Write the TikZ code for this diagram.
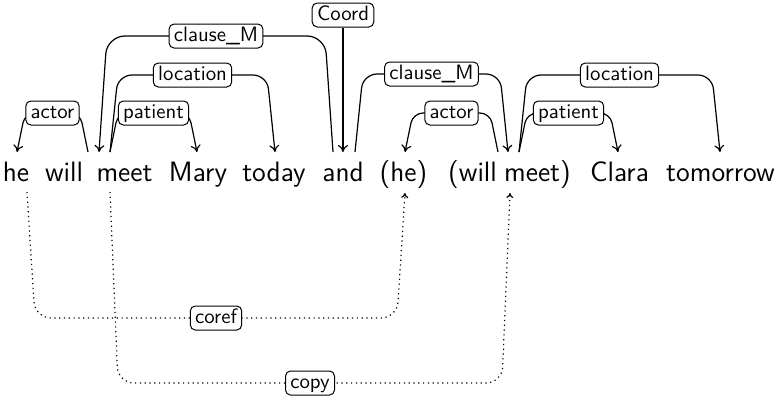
\documentclass[tikz,border=0pt]{standalone}
\usetikzlibrary{arrows.meta,calc}
\tikzset{
  word/.style={font=\sffamily\fontsize{14}{16}\selectfont, inner sep=0pt, anchor=base},
  deplabel/.style={draw, solid, fill=white, rounded corners=2.5pt,
    font=\sffamily\fontsize{10.4}{12}\selectfont, inner xsep=2.4pt, inner ysep=0pt,
    minimum height=12pt, text height=7.6pt, text depth=2.3pt, line width=0.5pt},
  depedge/.style={line width=0.6pt, -{To[length=3.5pt,width=5pt]}},
  coredge/.style={line width=0.6pt, dash pattern=on 0.6pt off 1.8pt,
    -{To[length=2.5pt,width=3.5pt]}, rounded corners=8pt},
  lvlA/.style={rounded corners=5pt},
  lvlB/.style={rounded corners=7pt},
  lvlC/.style={rounded corners=9pt}
}
\begin{document}
\begin{tikzpicture}[x=0.5pt,y=-0.5pt]
\useasboundingbox (0,0) rectangle (781,396);
% words
\node[word] (w1) at (16,181) {he};
\node[word] (w2) at (64,181) {will};
\node[word] (w3) at (124.5,181) {meet};
\node[word] (w4) at (198,181) {Mary};
\node[word] (w5) at (274,181) {today};
\node[word] (w6) at (343,181) {and};
\node[word] (w7) at (403.5,181) {(he)};
\node[word] (w8) at (472.5,181) {(will};
\node[word] (w9) at (537.5,181) {meet)};
\node[word] (w10) at (619.5,181) {Clara};
\node[word] (w11) at (720.5,181) {tomorrow};
% attachment points
\coordinate (heT) at (17,152);
\coordinate (heB) at (27,192);
\coordinate (willT) at (88,152);
\coordinate (meetI) at (99,152);
\coordinate (meetO) at (110,152);
\coordinate (meetB) at (110,192);
\coordinate (MaryT) at (197,152);
\coordinate (todayT) at (275,152);
\coordinate (andO1) at (333,152);
\coordinate (andI) at (343,152);
\coordinate (andO2) at (355,152);
\coordinate (hetwoT) at (405,152);
\coordinate (hetwoB) at (405,193);
\coordinate (willtwoT) at (498,152);
\coordinate (meettwoI) at (508,152);
\coordinate (meettwoO) at (519,152);
\coordinate (meettwoB) at (510,193);
\coordinate (ClaraT) at (618,152);
\coordinate (tomT) at (720,152);
% root
\node[deplabel] (coord) at (343,15) {Coord};
\draw[depedge] (coord.south) -- (andI);
% upper edges
\draw[depedge,lvlA] (willT) -- ++(-8,-39) -- node[deplabel] (l1) {actor} ($(heT)+(8,-39)$) -- (heT);
\draw[depedge,lvlA] (meetO) -- ++(8,-39) -- node[deplabel] (l2) {patient} ($(MaryT)+(-8,-39)$) -- (MaryT);
\draw[depedge,lvlB] (meetO) -- ++(8,-77) -- node[deplabel] (l3) {location} ($(todayT)+(-8,-77)$) -- (todayT);
\draw[depedge,lvlC] (andO1) -- ++(-8,-116) -- node[deplabel] (l4) {clause\_M} ($(meetI)+(8,-116)$) -- (meetI);
\draw[depedge,lvlB] (andO2) -- ++(8,-78) -- node[deplabel] (l5) {clause\_M} ($(meettwoI)+(-8,-78)$) -- (meettwoI);
\draw[depedge,lvlA] (willtwoT) -- ++(-8,-39) -- node[deplabel] (l6) {actor} ($(hetwoT)+(8,-39)$) -- (hetwoT);
\draw[depedge,lvlA] (meettwoO) -- ++(8,-39) -- node[deplabel] (l7) {patient} ($(ClaraT)+(-8,-39)$) -- (ClaraT);
\draw[depedge,lvlB] (meettwoO) -- ++(8,-77) -- node[deplabel] (l8) {location} ($(tomT)+(-8,-77)$) -- (tomT);
% lower edges
\draw[coredge] (heB) -- ++(8,126) -- node[deplabel] (l9) {coref} ($(hetwoB)+(-8,125)$) -- (hetwoB);
\draw[coredge] (meetB) -- ++(8,191) -- node[deplabel] (l10) {copy} ($(meettwoB)+(-8,190)$) -- (meettwoB);
\end{tikzpicture}
\end{document}
